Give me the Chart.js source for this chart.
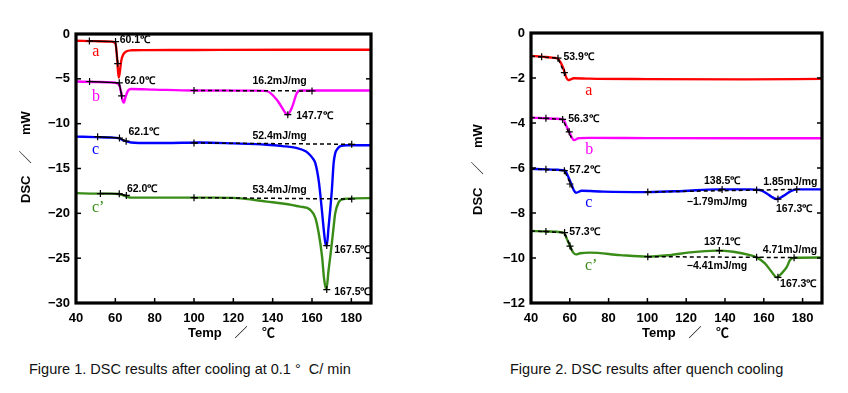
<!DOCTYPE html>
<html><head><meta charset="utf-8">
<script src="https://cdn.jsdelivr.net/npm/chart.js@4.4.1/dist/chart.umd.min.js"></script>
<style>
html,body{margin:0;padding:0;background:#fff;}
body{width:848px;height:393px;position:relative;overflow:hidden;}
canvas{position:absolute;top:0;}
#c1{left:0;}
#c2{left:424px;}
.cap{position:absolute;top:361px;font:14.5px "Liberation Sans",Arial,sans-serif;color:#111;white-space:pre;}
</style></head>
<body>
<canvas id="c1" width="400" height="350"></canvas>
<canvas id="c2" width="424" height="350"></canvas>
<div class="cap" style="left:29px">Figure 1. DSC results after cooling at 0.1 °  C/ min</div>
<div class="cap" style="left:510px">Figure 2. DSC results after quench cooling</div>
<script>
// ---------------- Figure 1 data (cooling at 0.1 °C/min) ----------------
const f1_a_t = [40,50,58,59.5,60.3,61,61.7,62.3,63,64,65.5,68,75,100,150,190];
const f1_a_v = [-0.75,-0.8,-0.85,-0.95,-1.3,-3.0,-4.85,-4.2,-3.0,-2.3,-1.95,-1.82,-1.8,-1.78,-1.75,-1.75];
const f1_b_t = [40,50,58,61,62.2,63,63.8,64.4,65.2,66.5,68,80,100,130,137,142.2,146.4,147.5,149.8,152.3,154,160,190];
const f1_b_v = [-5.3,-5.35,-5.4,-5.5,-5.8,-6.6,-7.5,-7.65,-7.0,-6.3,-6.13,-6.2,-6.3,-6.32,-6.37,-7.36,-8.77,-9.0,-8.2,-6.6,-6.3,-6.3,-6.3];
const f1_c_t = [40,50,58,62,64,66,68,72,85,103,120,137,145,152,157,159,160.5,161.7,163.5,165,166.2,166.8,167.5,168.4,169.3,170.1,171,171.8,173,174.4,178,190];
const f1_c_v = [-11.45,-11.5,-11.55,-11.65,-11.85,-12.0,-12.1,-12.15,-12.15,-12.1,-12.2,-12.35,-12.5,-12.7,-13.1,-13.5,-13.9,-14.4,-16.5,-19.6,-22.3,-23.3,-23.6,-21.6,-19.5,-17.4,-14.4,-13.3,-12.8,-12.5,-12.4,-12.4];
const f1_cp_t = [40,50,58,62,64,66,68,72,90,110,122,137,145,154,159.1,161.7,163.4,165.1,166.2,167.3,168.4,169.3,170.1,171,171.8,173.5,176,190];
const f1_cp_v = [-17.75,-17.8,-17.8,-17.85,-18.0,-18.15,-18.25,-18.25,-18.25,-18.25,-18.3,-18.7,-18.9,-19.25,-19.6,-20.5,-22.2,-24.8,-27.4,-28.5,-26.4,-24.8,-23.3,-21.5,-20.0,-18.8,-18.4,-18.3];
// tangent (onset) lines and baselines
const f1_tanA_t = [46.8,60.1,61.2],   f1_tanA_v = [-0.78,-0.85,-3.3];
const f1_tanB_t = [46.9,62.0,63.2],   f1_tanB_v = [-5.3,-5.45,-6.9];
const f1_tanC_t = [51,62.1,65.5],     f1_tanC_v = [-11.45,-11.6,-11.95];
const f1_tanCp_t = [52.4,62.0,65.6],  f1_tanCp_v = [-17.8,-17.82,-18.0];
const f1_baseB_t = [100,160],         f1_baseB_v = [-6.3,-6.35];
const f1_baseC_t = [100,180.2],       f1_baseC_v = [-12.15,-12.3];
const f1_baseCp_t = [100,180.2],      f1_baseCp_v = [-18.25,-18.4];
const f1_mark_t = [46.8,60.1,61.2, 46.9,62.0,63.2,100,160,147.7, 51,62.1,65.5,100,180.2,167.5, 52.4,62.0,65.6,100,180.2,167.5];
const f1_mark_v = [-0.78,-0.85,-3.3, -5.3,-5.45,-6.9,-6.3,-6.35,-9.0, -11.45,-11.6,-11.95,-12.15,-12.3,-23.6, -17.8,-17.82,-18.0,-18.25,-18.4,-28.5];
const f1_xTicks = [40,60,80,100,120,140,160,180];
const f1_yTicks = [0,-5,-10,-15,-20,-25,-30];

// ---------------- Figure 2 data (quench cooling) ----------------
const f2_a_t = [40,45.5,50,53.6,55,56.7,58,59.2,60.5,62,70,100,150,190];
const f2_a_v = [-1.02,-1.05,-1.09,-1.13,-1.27,-1.57,-1.94,-2.09,-2.06,-2.01,-2.03,-2.05,-2.06,-2.04];
const f2_b_t = [40,47.7,53,56.7,58,59.7,61,62.2,64.4,70,100,150,190];
const f2_b_v = [-3.76,-3.79,-3.81,-3.84,-4.09,-4.39,-4.64,-4.76,-4.68,-4.66,-4.67,-4.68,-4.68];
const f2_c_t = [40,47.7,54,57.5,59.2,61,62.2,63.2,66.1,77.3,100.2,118.5,135.7,152.9,158,161.5,164,166.7,170.1,173.5,177,190];
const f2_c_v = [-6.04,-6.06,-6.08,-6.12,-6.39,-6.76,-7.01,-7.1,-7.01,-7.05,-7.07,-7.02,-6.95,-6.95,-6.98,-7.13,-7.28,-7.38,-7.24,-7.05,-6.95,-6.95];
const f2_cp_t = [40,47.7,56.7,58.4,60.1,61.8,63.2,65.3,70.4,85.9,100.2,111.6,122,135.7,144.3,152.9,156.3,160.6,164,166.7,169.2,171.8,173.5,175.6,190];
const f2_cp_v = [-8.8,-8.82,-8.87,-9.13,-9.47,-9.76,-9.84,-9.79,-9.76,-9.87,-9.94,-9.87,-9.75,-9.67,-9.72,-9.87,-9.97,-10.24,-10.61,-10.86,-10.68,-10.41,-10.09,-9.99,-9.98];
const f2_tanA_t = [40,53.9,58.3],     f2_tanA_v = [-1.03,-1.12,-2.0];
const f2_tanB_t = [40,56.3,60.8],     f2_tanB_v = [-3.76,-3.84,-4.65];
const f2_tanC_t = [40,57.2,62],       f2_tanC_v = [-6.04,-6.12,-7.0];
const f2_tanCp_t = [40,57.3,61.5],    f2_tanCp_v = [-8.8,-8.87,-9.75];
const f2_baseC_t = [100.2,156.3,177], f2_baseC_v = [-7.07,-6.98,-6.95];
const f2_baseCp_t = [100.2,156.3,177],f2_baseCp_v = [-9.94,-9.97,-9.98];
const f2_mark_t = [45.5,53.9,57.2, 47.7,56.3,59.7, 47.7,57.2,60.1,100.2,138.5,156.3,167.3,177, 47.7,57.3,60.1,100.2,137.1,156.3,167.3,175.6];
const f2_mark_v = [-1.05,-1.12,-1.76, -3.79,-3.84,-4.39, -6.06,-6.12,-6.71,-7.07,-6.95,-6.98,-7.38,-6.95, -8.82,-8.87,-9.47,-9.94,-9.67,-9.97,-10.86,-9.99];
const f2_xTicks = [40,60,80,100,120,140,160,180];
const f2_yTicks = [0,-2,-4,-6,-8,-10,-12];

// ---------------- text labels (value coordinates) ----------------
const RED='#ff0000', MAG='#ff00ff', BLUE='#0000ff', GREEN='#3a8c18';
const ANNOT='bold 10.5px "Liberation Sans", Arial, sans-serif';
const LETTER='16px "Liberation Serif", "Times New Roman", serif';
const f1_notes = [
  {text:'60.1℃', t:62.2, v:-0.7, align:'left'},
  {text:'62.0℃', t:64.6, v:-5.26, align:'left'},
  {text:'16.2mJ/mg', t:143.5, v:-5.26, align:'center'},
  {text:'147.7℃', t:152, v:-9.18, align:'left'},
  {text:'62.1℃', t:66.7, v:-10.95, align:'left'},
  {text:'52.4mJ/mg', t:143.5, v:-11.4, align:'center'},
  {text:'62.0℃', t:65.9, v:-17.28, align:'left'},
  {text:'53.4mJ/mg', t:143.5, v:-17.39, align:'center'},
  {text:'167.5℃', t:171.3, v:-24.08, align:'left'},
  {text:'167.5℃', t:171.3, v:-28.76, align:'left'}
];
const f1_letters = [
  {text:'a', t:50.1, v:-2.5, color:RED, align:'center'},
  {text:'b', t:50.2, v:-7.43, color:MAG, align:'center'},
  {text:'c', t:50.0, v:-13.4, color:BLUE, align:'center'},
  {text:'c’', t:48.1, v:-19.8, color:GREEN, align:'left'}
];
const f2_notes = [
  {text:'53.9℃', t:56.7, v:-1.09, align:'left'},
  {text:'56.3℃', t:59.2, v:-3.82, align:'left'},
  {text:'57.2℃', t:59.7, v:-6.09, align:'left'},
  {text:'57.3℃', t:59.7, v:-8.87, align:'left'},
  {text:'138.5℃', t:138.5, v:-6.59, align:'center'},
  {text:'1.85mJ/mg', t:173.7, v:-6.63, align:'center'},
  {text:'−1.79mJ/mg', t:135.9, v:-7.52, align:'center'},
  {text:'167.3℃', t:166.3, v:-7.81, align:'left'},
  {text:'137.1℃', t:138.5, v:-9.31, align:'center'},
  {text:'4.71mJ/mg', t:173.5, v:-9.65, align:'center'},
  {text:'−4.41mJ/mg', t:135.9, v:-10.36, align:'center'},
  {text:'167.3℃', t:168.4, v:-11.16, align:'left'}
];
const f2_letters = [
  {text:'a', t:69.8, v:-2.76, color:RED, align:'center'},
  {text:'b', t:70.0, v:-5.38, color:MAG, align:'center'},
  {text:'c', t:69.8, v:-7.75, color:BLUE, align:'center'},
  {text:'c’', t:67.8, v:-10.53, color:GREEN, align:'left'}
];

function pts(t, v){ return t.map((x,i)=>({x:x, y:v[i]})); }
function curve(t,v,color){ return {data:pts(t,v), borderColor:color, borderWidth:2.4, pointRadius:0, cubicInterpolationMode:'monotone', fill:false, order:3}; }
function blk(t,v,dash){ return {data:pts(t,v), borderColor:'#000', borderWidth:1.5, borderDash:dash?[4,3]:[], pointRadius:0, tension:0, fill:false, order:2}; }
function marks(t,v){ return {data:pts(t,v), showLine:false, borderColor:'#000', backgroundColor:'#000', pointStyle:'cross', pointRadius:3.5, borderWidth:1.2, order:1}; }

const TICKFONT = {family:'"Liberation Sans", Arial, sans-serif', size:13, weight:'bold'};
const TITLEFONT = 'bold 13px "Liberation Sans", Arial, "Noto Sans CJK JP", sans-serif';

const deco = {
  id:'deco',
  afterDraw(chart, args, o){
    const {ctx, chartArea:a, scales:{x,y}} = chart;
    ctx.save();
    ctx.strokeStyle='#000'; ctx.lineWidth=1.5;
    const ln=(x1,y1,x2,y2)=>{ctx.beginPath();ctx.moveTo(x1,y1);ctx.lineTo(x2,y2);ctx.stroke();};
    x.ticks.forEach(tk=>{const px=x.getPixelForValue(tk.value); ln(px,a.bottom,px,a.bottom-5);});
    y.ticks.forEach(tk=>{const py=y.getPixelForValue(tk.value); ln(a.left,py,a.left+5,py); ln(a.right,py,a.right-5,py);});
    ctx.lineWidth=3.2;
    ctx.strokeRect(a.left,a.top,a.right-a.left,a.bottom-a.top);
    ctx.textBaseline='middle'; ctx.fillStyle='#000';
    o.notes.forEach(n=>{ctx.font=ANNOT; ctx.textAlign=n.align; ctx.fillText(n.text, x.getPixelForValue(n.t), y.getPixelForValue(n.v));});
    ctx.textBaseline='alphabetic';
    o.letters.forEach(n=>{ctx.font=LETTER; ctx.fillStyle=n.color; ctx.textAlign=n.align; ctx.fillText(n.text, x.getPixelForValue(n.t), y.getPixelForValue(n.v));});
    // axis titles
    ctx.fillStyle='#000'; ctx.font=TITLEFONT; ctx.textBaseline='middle';
    const xt=o.xTitle;
    ctx.textAlign='left'; ctx.fillText('Temp', xt.x, xt.y);
    ctx.textAlign='center'; ctx.fillText('／', xt.x+53, xt.y);
    ctx.textAlign='left'; ctx.fillText('℃', xt.x+74, xt.y);
    const yt=o.yTitle;
    ctx.translate(yt.x, 0); ctx.rotate(-Math.PI/2);
    ctx.textAlign='left'; ctx.fillText('DSC', -yt.dsc, 0);
    ctx.textAlign='center'; ctx.fillText('／', -yt.slash, 0);
    ctx.textAlign='left'; ctx.fillText('mW', -yt.mw, 0);
    ctx.restore();
  }
};

function makeChart(id, datasets, ymin, ymax, ystep, pad, yW, xH, notes, letters, xTitle, yTitle){
  return new Chart(document.getElementById(id), {
    type:'line',
    data:{datasets},
    plugins:[deco],
    options:{
      responsive:false, animation:false, events:[],
      layout:{padding:pad},
      plugins:{legend:{display:false}, tooltip:{enabled:false}, deco:{notes, letters, xTitle, yTitle}},
      scales:{
        x:{type:'linear', min:40, max:190, grid:{display:false, drawTicks:false}, border:{display:false},
           ticks:{stepSize:20, includeBounds:false, color:'#000', font:TICKFONT, padding:8, maxRotation:0},
           afterFit:s=>{s.height=xH;}},
        y:{type:'linear', min:ymin, max:ymax, grid:{display:false, drawTicks:false}, border:{display:false},
           ticks:{stepSize:ystep, color:'#000', font:TICKFONT, padding:6, callback:v=>String(v).replace('-','−')},
           afterFit:s=>{s.width=yW;}}
      }
    }
  });
}

makeChart('c1', [
  curve(f1_a_t,f1_a_v,RED), curve(f1_b_t,f1_b_v,MAG), curve(f1_c_t,f1_c_v,BLUE), curve(f1_cp_t,f1_cp_v,GREEN),
  blk(f1_tanA_t,f1_tanA_v,false), blk(f1_tanB_t,f1_tanB_v,false), blk(f1_tanC_t,f1_tanC_v,false), blk(f1_tanCp_t,f1_tanCp_v,false),
  blk(f1_baseB_t,f1_baseB_v,true), blk(f1_baseC_t,f1_baseC_v,true), blk(f1_baseCp_t,f1_baseCp_v,true),
  marks(f1_mark_t,f1_mark_v)
], -30, 0, 5, {left:0,right:29,top:34,bottom:0}, 76, 47, f1_notes, f1_letters,
  {x:188,y:333}, {x:26, dsc:203, slash:157, mw:135});

makeChart('c2', [
  curve(f2_a_t,f2_a_v,RED), curve(f2_b_t,f2_b_v,MAG), curve(f2_c_t,f2_c_v,BLUE), curve(f2_cp_t,f2_cp_v,GREEN),
  blk(f2_tanA_t,f2_tanA_v,true), blk(f2_tanB_t,f2_tanB_v,true), blk(f2_tanC_t,f2_tanC_v,true), blk(f2_tanCp_t,f2_tanCp_v,true),
  blk(f2_baseC_t,f2_baseC_v,true), blk(f2_baseCp_t,f2_baseCp_v,true),
  marks(f2_mark_t,f2_mark_v)
], -12, 0, 2, {left:0,right:26,top:33,bottom:0}, 107, 47, f2_notes, f2_letters,
  {x:218,y:333}, {x:54, dsc:215, slash:168, mw:148});
</script>
</body></html>
